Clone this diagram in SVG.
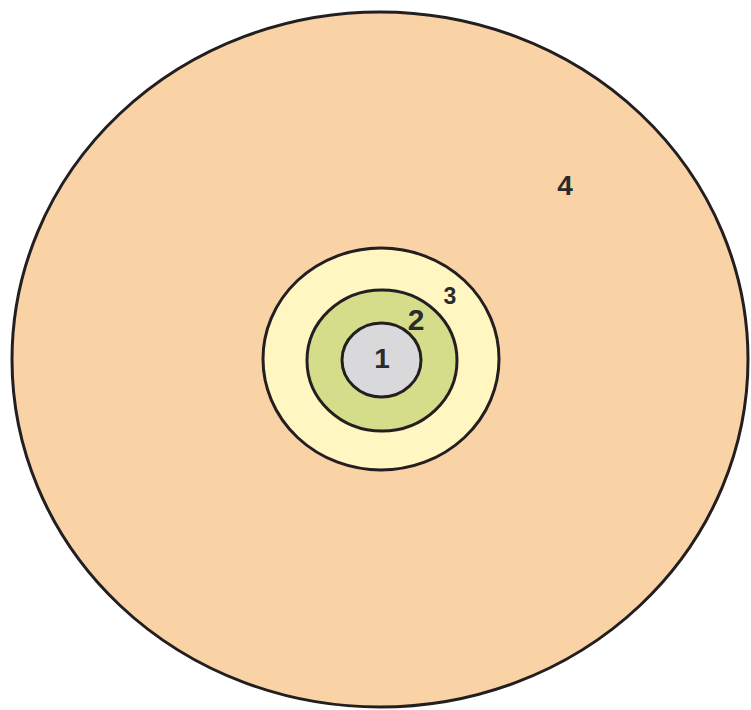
<svg xmlns="http://www.w3.org/2000/svg" width="751" height="710" viewBox="0 0 751 710">
<style>
.ring{stroke:#231f20;stroke-width:3}
.lbl{font-family:"Liberation Sans",Arial,sans-serif;font-weight:bold;fill:#2b2b2b;text-anchor:middle}
</style>
<rect width="751" height="710" fill="#ffffff"/>
<g id="zone4">
<ellipse class="ring" cx="380" cy="359.5" rx="368" ry="347.5" fill="#f9d3a5"/>
<text class="lbl" x="565" y="195" font-size="28">4</text>
</g>
<g id="zone3">
<ellipse class="ring" cx="381" cy="359" rx="118" ry="111" fill="#fff6c2"/>
<text class="lbl" x="450" y="304" font-size="23">3</text>
</g>
<g id="zone2">
<ellipse class="ring" cx="382" cy="360.5" rx="75" ry="70.5" fill="#d5dd8b"/>
<text class="lbl" x="416" y="330" font-size="30">2</text>
</g>
<g id="zone1">
<ellipse class="ring" cx="381.5" cy="360" rx="39.5" ry="37" fill="#d9d9db"/>
<text class="lbl" x="382" y="368" font-size="28">1</text>
</g>
<g id="connectors"/>
</svg>
